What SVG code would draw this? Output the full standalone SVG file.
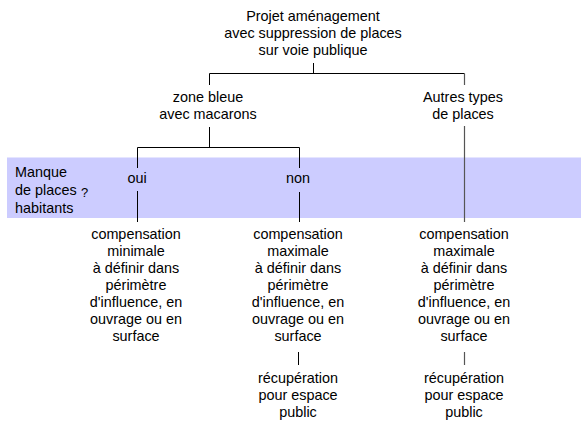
<svg xmlns="http://www.w3.org/2000/svg" width="581" height="422" viewBox="0 0 581 422">
<style>
text{font-family:"Liberation Sans",Arial,sans-serif;font-size:14.4px;fill:#000}
.c{text-anchor:middle}
.ln{stroke:#000;stroke-width:1;fill:none}
.g{stroke:#555;stroke-width:1.2;fill:none}
</style>
<rect id="band" x="7" y="157.5" width="574" height="60.5" fill="#CCCCFF"/>
<g id="connectors">
<path class="ln" d="M313.5 63V73.5M209.5 85V73.5H464.5"/>
<path class="g" d="M464.5 73.5V85"/>
<path class="ln" d="M209.5 127V147.5M137.5 168V147.5H299.5V168"/>
<path class="ln" d="M137.5 191V222M299.5 192V222"/>
<path class="g" d="M464.5 126V222"/>
<path class="ln" d="M298.5 352V365"/>
<path class="g" d="M464.5 352V365"/>
</g>
<g id="root"><text class="c" x="313" y="21">Projet aménagement</text><text class="c" x="313" y="38">avec suppression de places</text><text class="c" x="313" y="55">sur voie publique</text></g>
<g id="zone"><text class="c" x="208" y="102">zone bleue</text><text class="c" x="208" y="119">avec macarons</text></g>
<g id="autres"><text class="c" x="463" y="102">Autres types</text><text class="c" x="463" y="119">de places</text></g>
<g id="question"><text x="15" y="177">Manque</text><text x="15" y="195">de places</text><text x="81" y="197" style="font-size:13px">?</text><text x="15" y="213">habitants</text></g>
<g id="oui"><text class="c" x="137" y="183">oui</text></g>
<g id="non"><text class="c" x="298" y="183">non</text></g>
<g id="comp-min"><text class="c" x="136" y="239">compensation</text><text class="c" x="136" y="256">minimale</text><text class="c" x="136" y="273">à définir dans</text><text class="c" x="136" y="290">périmètre</text><text class="c" x="136" y="307">d'influence, en</text><text class="c" x="136" y="324">ouvrage ou en</text><text class="c" x="136" y="341">surface</text></g>
<g id="comp-max1"><text class="c" x="298" y="239">compensation</text><text class="c" x="298" y="256">maximale</text><text class="c" x="298" y="273">à définir dans</text><text class="c" x="298" y="290">périmètre</text><text class="c" x="298" y="307">d'influence, en</text><text class="c" x="298" y="324">ouvrage ou en</text><text class="c" x="298" y="341">surface</text></g>
<g id="comp-max2"><text class="c" x="464" y="239">compensation</text><text class="c" x="464" y="256">maximale</text><text class="c" x="464" y="273">à définir dans</text><text class="c" x="464" y="290">périmètre</text><text class="c" x="464" y="307">d'influence, en</text><text class="c" x="464" y="324">ouvrage ou en</text><text class="c" x="464" y="341">surface</text></g>
<g id="recup1"><text class="c" x="298" y="383">récupération</text><text class="c" x="298" y="400">pour espace</text><text class="c" x="298" y="417">public</text></g>
<g id="recup2"><text class="c" x="464" y="383">récupération</text><text class="c" x="464" y="400">pour espace</text><text class="c" x="464" y="417">public</text></g>
</svg>
